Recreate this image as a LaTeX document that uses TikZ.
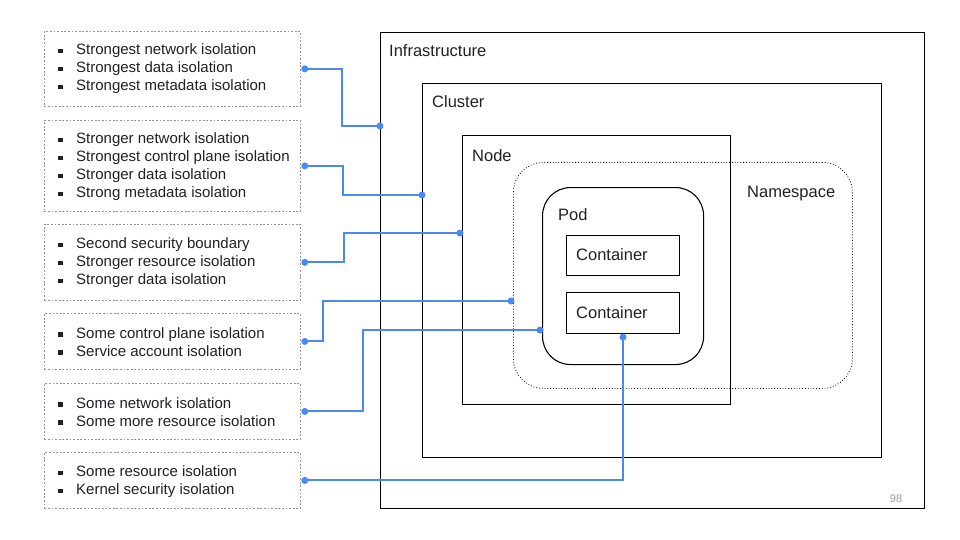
\documentclass[tikz,border=0pt]{standalone}
\usepackage{fontspec}
\setmainfont{Liberation Sans}
\definecolor{cblue}{HTML}{4A89F3}
\definecolor{ink}{HTML}{202124}
\newcommand\bl{\makebox[18pt][l]{\rule[1.8pt]{4.5pt}{4.5pt}}}
\tikzset{
  box/.style={draw=black, line width=1.1pt, inner sep=0, anchor=north west},
  lbl/.style={anchor=west, inner sep=0, text=ink, font=\fontsize{16.5}{19}\selectfont},
  lbox/.style={draw=gray!85, dash pattern=on 1.8pt off 1.8pt, line width=0.8pt,
    minimum width=256, inner sep=0, anchor=north west},
  ltext/.style={anchor=west, inner sep=0, align=left, text=ink, font=\fontsize{15}{18}\selectfont},
  conn/.style={draw=cblue, line width=1.9pt},
  dot/.style={fill=cblue}
}
\begin{document}
\begin{tikzpicture}[x=1pt,y=-1pt]
\useasboundingbox (0,0) rectangle (960,540);
% left boxes
\node[lbox, minimum height=75] (b1) at (44,31) {};
\node[lbox, minimum height=91] (b2) at (44,120) {};
\node[lbox, minimum height=76] (b3) at (44,224) {};
\node[lbox, minimum height=56] (b4) at (44,313) {};
\node[lbox, minimum height=56] (b5) at (44,383) {};
\node[lbox, minimum height=56] (b6) at (44,452) {};
\node[ltext] (t1) at (58,69) {\bl Strongest network isolation\\ \bl Strongest data isolation\\ \bl Strongest metadata isolation};
\node[ltext] (t2) at (58,167) {\bl Stronger network isolation\\ \bl Strongest control plane isolation\\ \bl Stronger data isolation\\ \bl Strong metadata isolation};
\node[ltext] (t3) at (58,263) {\bl Second security boundary\\ \bl Stronger resource isolation\\ \bl Stronger data isolation};
\node[ltext] (t4) at (58,342) {\bl Some control plane isolation\\ \bl Service account isolation};
\node[ltext] (t5) at (58,412) {\bl Some network isolation\\ \bl Some more resource isolation};
\node[ltext] (t6) at (58,482) {\bl Some resource isolation\\ \bl Kernel security isolation};
% main nesting
\node[box, minimum width=544, minimum height=476] (infra) at (380,32) {};
\node[box, minimum width=459, minimum height=374] (cluster) at (422,83) {};
\node[box, minimum width=268, minimum height=269] (knode) at (462,135) {};
\node[draw=black, dotted, line width=0.8pt, rounded corners=30, minimum width=339, minimum height=226, inner sep=0, anchor=north west] (ns) at (513,162) {};
\node[box, rounded corners=28, minimum width=161, minimum height=177] (pod) at (542,187) {};
\node[box, minimum width=113, minimum height=40] (c1) at (566,235) {};
\node[box, minimum width=113, minimum height=41] (c2) at (566,292) {};
\node[lbl] (linfra) at (389,51) {Infrastructure};
\node[lbl] (lcluster) at (432,102) {Cluster};
\node[lbl] (lnode) at (472,156) {Node};
\node[lbl] (lns) at (747,194) {Namespace};
\node[lbl] (lpod) at (558,215) {Pod};
\node[lbl] (lc1) at (576,255) {Container};
\node[lbl] (lc2) at (576,313) {Container};
\node[anchor=center, inner sep=0, text=gray!80, font=\fontsize{11}{13}\selectfont] (pg) at (896,499) {98};
% connector ends
\coordinate (s1) at ([xshift=4pt]b1.east);
\coordinate (s2) at ([xshift=4pt]b2.east);
\coordinate (s3) at ([xshift=4pt]b3.east);
\coordinate (s4) at ([xshift=4pt]b4.east);
\coordinate (s5) at ([xshift=4pt]b5.east);
\coordinate (s6) at ([xshift=4pt]b6.east);
\coordinate (e1) at (infra.west |- 0,126);
\coordinate (e2) at (cluster.west |- 0,195);
\coordinate (e3) at ([xshift=-2pt]knode.west |- 0,233);
\coordinate (e4) at ([xshift=-2pt]ns.west |- 0,301);
\coordinate (e5) at ([xshift=-2pt]pod.west |- 0,330);
\coordinate (e6) at ([yshift=-3pt]c2.south);
% connectors
\draw[conn] (s1) -| (342,126) -- (e1);
\draw[conn] (s2) -| (343,195) -- (e2);
\draw[conn] (s3) -| (344,233) -- (e3);
\draw[conn] (s4) -| (323,301) -- (e4);
\draw[conn] (s5) -| (363,330) -- (e5);
\draw[conn] (s6) -| (e6);
\foreach \p in {s1,s2,s3,s4,s5,s6,e1,e2,e3,e4,e5,e6}{\fill[dot] (\p) circle (3.5);}
\end{tikzpicture}
\end{document}
